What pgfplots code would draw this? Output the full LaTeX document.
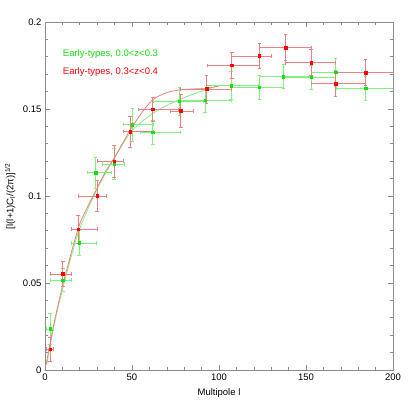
\documentclass[border=0pt]{standalone}
\usepackage{fontspec}
\setmainfont{Liberation Sans}
\usepackage{pgfplots}
\pgfplotsset{compat=1.18}
\definecolor{eg}{HTML}{10E010}
\definecolor{egbar}{HTML}{80F080}
\definecolor{er}{HTML}{FF0000}
\definecolor{erbar}{HTML}{F08080}
\definecolor{axgrey}{HTML}{8C8C8C}

\begin{document}
\begin{tikzpicture}[font=\fontsize{9.5bp}{11bp}\selectfont]
\begin{axis}[
  name=ax,
  width=348bp, height=348bp, scale only axis,
  xmin=0, xmax=200, ymin=0, ymax=0.2,
  xtick={0,50,100,150,200},
  ytick={0,0.05,0.1,0.15,0.2},
  minor x tick num=4, minor y tick num=4,
  scaled y ticks=false,
  /pgf/number format/assume math mode=true,
  yticklabel style={/pgf/number format/fixed, /pgf/number format/precision=2},
  tick align=inside,
  major tick length=5bp, minor tick length=3bp,
  axis line style={axgrey, line width=0.8bp},
  every tick/.style={axgrey, line width=0.6bp},
  xlabel={Multipole l},
  ylabel={[l(l+1)C\textsubscript{l}/(2π)]\textsuperscript{1/2}},
  xlabel style={at={(axis description cs:0.5,-0.066)}, anchor=center},
  ylabel style={at={(axis description cs:-0.1,0.5)}, anchor=center},
  clip=true,
]
% fitted curves
\addplot[egbar, line width=0.8bp, smooth, tension=0.5] coordinates {
  (1,0.003) (5.5,0.027) (11,0.050) (19.5,0.080) (30,0.104) (40,0.122)
  (50,0.1375) (62,0.1475) (70,0.152) (77.6,0.1556) (85,0.1585) (93,0.1613) (100,0.1635)};
\addplot[erbar, line width=0.8bp, smooth, tension=0.5] coordinates {
  (0.6,0.003) (5,0.026) (10.5,0.050) (19,0.081) (23.6,0.092) (34.5,0.1135)
  (40.2,0.1225) (49,0.138) (56.5,0.149) (62.3,0.1556) (69.9,0.1594) (77.6,0.161)
  (85,0.1615) (92.9,0.1619) (100,0.1632)};
% Early-types 0.0<z<0.3
\addplot[only marks, mark=square*, mark size=1.3bp, eg, mark options={draw=none, fill=eg},
  error bars/.cd, x dir=both, x explicit, y dir=both, y explicit,
  error bar style={egbar, line width=0.7bp},
  error mark options={rotate=90, mark size=1.8bp, egbar, line width=0.7bp}]
  coordinates {
  (2.9,0.0236) += (2,0.009) -= (2,0.009)
  (10.2,0.0517) += (5.1,0.0065) -= (7.3,0.0065)
  (19.7,0.073) += (9.6,0.0073) -= (4.7,0.0073)
  (29.1,0.1134) += (9,0.009) -= (5,0.009)
  (39.8,0.1184) += (6,0.0087) -= (7,0.0087)
  (50.2,0.141) += (12,0.0095) -= (5,0.0095)
  (61.9,0.1366) += (15.7,0.007) -= (7.3,0.007)
  (77.2,0.1544) += (14,0.008) -= (15,0.008)
  (92.1,0.155) += (15,0.007) -= (15,0.007)
  (106.9,0.1634) += (16,0.008) -= (14,0.008)
  (123.2,0.1625) += (14,0.007) -= (16,0.007)
  (137,0.1686) += (16,0.007) -= (14,0.007)
  (152.9,0.1682) += (14,0.007) -= (16,0.007)
  (167,0.1711) += (17,0.008) -= (14,0.008)
  (184.3,0.1619) += (16,0.007) -= (17,0.007)
};
% Early-types 0.3<z<0.4
\addplot[only marks, mark=square*, mark size=1.3bp, er, mark options={draw=none, fill=er},
  error bars/.cd, x dir=both, x explicit, y dir=both, y explicit,
  error bar style={erbar, line width=0.7bp},
  error mark options={rotate=90, mark size=1.8bp, erbar, line width=0.7bp}]
  coordinates {
  (2.9,0.0119) += (2,0.007) -= (2,0.007)
  (10.2,0.0552) += (5.1,0.007) -= (7.3,0.007)
  (19,0.081) += (11,0.008) -= (4,0.008)
  (30,0.100) += (5.5,0.009) -= (11,0.009)
  (39.8,0.120) += (5,0.009) -= (10,0.009)
  (49,0.137) += (13,0.009) -= (4,0.009)
  (61.9,0.1498) += (15,0.007) -= (8,0.007)
  (78,0.1489) += (7,0.0095) -= (6,0.0095)
  (92.9,0.1615) += (14,0.008) -= (15,0.008)
  (107.3,0.1751) += (16,0.0075) -= (14,0.0075)
  (123.2,0.1805) += (7,0.0072) -= (16,0.0072)
  (138.3,0.1854) += (15,0.0075) -= (15,0.0075)
  (152.9,0.1766) += (14,0.0075) -= (15,0.0075)
  (167,0.1647) += (17,0.0077) -= (14,0.0077)
  (184.3,0.1709) += (16,0.0075) -= (17,0.0075)
};
\node[anchor=west, text=eg, inner sep=0pt] at (axis cs:10.2,0.1814) {Early-types, 0.0<z<0.3};
\node[anchor=west, text=er, inner sep=0pt] at (axis cs:10.2,0.1711) {Early-types, 0.3<z<0.4};
\end{axis}
\path[use as bounding box] ([shift={(-45bp,-45bp)}]ax.south west) rectangle ([shift={(22bp,22bp)}]ax.north east);
\end{tikzpicture}
\end{document}
